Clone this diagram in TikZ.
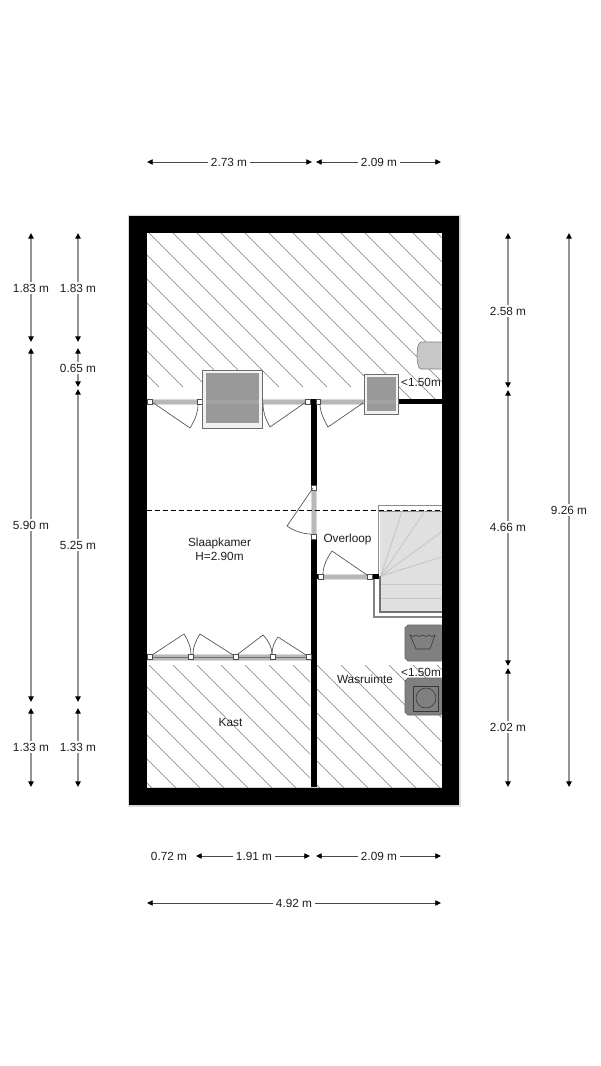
\documentclass[tikz,border=0pt]{standalone}
\usepackage{fontspec}
\setmainfont{Liberation Sans}
\usetikzlibrary{arrows.meta}
\definecolor{txt}{HTML}{1E1E1E}
\tikzset{
  x=0.75pt,y=-0.75pt,
  lab/.style={font=\fontsize{8.85}{10.5}\selectfont,text=txt,inner sep=0pt,align=center},
  dimbg/.style={lab,fill=white,inner xsep=2.2pt,inner ysep=1pt},
  tip/.style={{Triangle[length=4.2pt,width=4pt,black]}-{Triangle[length=4.2pt,width=4pt,black]}},
  dimv/.style={tip,draw=black!42,line width=0.85pt},
  dimh/.style={tip,draw=black!72,line width=0.5pt},
  hatch/.style={draw=black!52,line width=0.42pt},
  wallk/.style={fill=black,draw=none},
  bar/.style={fill=black!28,draw=black!15,line width=0.6pt},
  hinge/.style={fill=white,draw=black!70,line width=0.4pt},
  leaf/.style={draw=black!68,line width=0.5pt},
  stepline/.style={draw=black!22,line width=0.7pt},
  winouter/.style={fill=black!5,draw=black!58,line width=0.7pt},
  wininner/.style={fill=black!40,draw=none},
  appl/.style={fill=black!50,draw=black!62,line width=0.6pt},
  applline/.style={draw=black!78,line width=0.45pt},
}
\newcommand{\Vdim}[6]{% name x y1 y2 label ylabel
  \coordinate (#1a) at (#2,#3); \coordinate (#1b) at (#2,#4);
  \draw[dimv] (#1a) -- (#1b);
  \node[dimbg] (#1) at (#2,#6) {#5};}
\newcommand{\Hdim}[6]{% name y x1 x2 label xlabel
  \coordinate (#1a) at (#3,#2); \coordinate (#1b) at (#4,#2);
  \draw[dimh] (#1a) -- (#1b);
  \node[dimbg] (#1) at (#6,#2) {#5};}
\newcommand{\Hinge}[2]{\fill[hinge] (#1-2.3,#2-2.6) rectangle (#1+2.3,#2+2.6); \draw[hinge] (#1-2.3,#2-2.6) rectangle (#1+2.3,#2+2.6);}
\begin{document}
\begin{tikzpicture}
\useasboundingbox (0,0) rectangle (600,1066);
\fill[white] (0,0) rectangle (600,1066);
% outer walls
\fill[black!14] (128,215) rectangle (460.5,806.5);
\fill[wallk] (129,216) rectangle (459,805);
\fill[black!18] (147,233) rectangle (441.5,787.8);
\fill[white] (147,233) rectangle (441.5,787);
% hatching, upper room
\begin{scope}
  \clip (147,233) -- (441.5,233) -- (441.5,400) -- (364,400) -- (364,387) -- (147,387) -- cycle;
  \foreach \k in {-12,...,12} \draw[hatch] ({233+(-60+24*\k)},233) -- ({233+(-60+24*\k)+200},433);
\end{scope}
% hatching, Kast
\begin{scope}
  \clip (147,665) rectangle (310,787);
  \foreach \k in {-6,...,6} \draw[hatch] ({665+(-516+24*\k)},665) -- ({665+(-516+24*\k)+130},795);
\end{scope}
% hatching, Wasruimte
\begin{scope}
  \clip (317,665) rectangle (441.5,787);
  \foreach \k in {-5,...,6} \draw[hatch] ({665+(-348+24*\k)},665) -- ({665+(-348+24*\k)+130},795);
\end{scope}
% interior walls
\fill[wallk] (310.5,399) rectangle (316.5,787);
\fill[wallk] (398,399) rectangle (441.5,404);
% grey blob
\draw[fill=black!22,draw=black!50,line width=0.5pt] (441.5,342) -- (421,342) .. controls (418,342) and (417,350) .. (417,355.5) .. controls (417,361) and (418,369) .. (421,369) -- (441.5,369);
% top door bars
\fill[bar] (147,399.5) rectangle (306,404.5);
\fill[bar] (320,399.5) rectangle (364,404.5);
\Hinge{149.7}{401.7}
\Hinge{200}{401.7}
\Hinge{308}{401.7}
\Hinge{318.2}{401.7}
\draw[leaf] (152,402) -- (190,428) .. controls (195,420) and (198,412) .. (198,404);
\draw[leaf] (306,402) -- (270,427) .. controls (266,420) and (263,412) .. (263,404);
\draw[leaf] (363,403) -- (328,427) .. controls (324,420) and (320,412) .. (320,404);
% windows
\draw[winouter] (202,370) rectangle (262,428);
\fill[wininner] (206,373) rectangle (259,423);
\fill[black!36] (206,400) rectangle (259,404);
\draw[winouter] (364,374) rectangle (398,414);
\fill[wininner] (367,377) rectangle (396,411);
\fill[black!36] (367,400) rectangle (396,404);
% middle door
\fill[bar] (311,489) rectangle (316,535);
\Hinge{313.5}{487.5}
\Hinge{313.5}{536.5}
\draw[leaf] (313,488) -- (287,526) .. controls (294,531) and (303,534) .. (311,534);
% stairs
\fill[white] (374,575) -- (378,575) -- (378,505) -- (441.5,505) -- (441.5,617) -- (374,617) -- cycle;
\draw[black!48,line width=0.85pt] (441.5,617) -- (374,617) -- (374,579);
\fill[black!12] (380,511) rectangle (441.5,612);
\draw[black!45,line width=0.5pt] (441.5,505) -- (378,505) -- (378,575);
\draw[black!45,line width=0.5pt] (378,511) -- (441.5,511);
\coordinate (fan) at (381,576);
\draw[stepline] (fan) -- (402,511);
\draw[stepline] (fan) -- (425,511);
\draw[stepline] (fan) -- (441.5,532);
\draw[stepline] (fan) -- (441.5,557);
\draw[stepline] (381,584) -- (441.5,584);
\draw[stepline] (381,598) -- (441.5,598);
\draw[black!55,line width=1.1pt] (380,576) -- (380,612) -- (441.5,612);
% overloop door
\fill[wallk] (316,574) rectangle (320,579);
\fill[wallk] (371,574) rectangle (379,579);
\fill[bar] (322,574) rectangle (367,579);
\Hinge{320.5}{576.5}
\Hinge{369.5}{576.5}
\draw[leaf] (367,575) -- (332,551) .. controls (327,558) and (323,566) .. (323,574);
% dashed line
\draw[black,line width=0.65pt,dash pattern=on 3.4pt off 2.6pt] (147,510.5) -- (441.5,510.5);
% appliances
\draw[appl] (441.5,625) -- (408,625) -- (405,628) -- (405,658) -- (408,661) -- (441.5,661);
\fill[black!50] (406,626) rectangle (441.5,660);
\draw[applline] (410,635) .. controls (412,637) and (414,637) .. (416,635) .. controls (418,637) and (420,637) .. (422.5,635) .. controls (425,637) and (427,637) .. (429,635) .. controls (431,637) and (433,637) .. (435,635) -- (430,649) -- (416,649) -- cycle;
\draw[appl] (441.5,678) -- (408,678) -- (405,681) -- (405,712) -- (408,715) -- (441.5,715);
\fill[black!50] (406,679) rectangle (441.5,714);
\draw[applline] (413,686) rectangle (438,711);
\draw[applline] (426,698) circle[radius=10];
% closet doors
\fill[bar] (147,654) rectangle (310,660);
\draw[black!55,line width=0.3pt] (147,657) -- (310,657);
\Hinge{149.5}{657}
\Hinge{191}{657}
\Hinge{235.5}{657}
\Hinge{272.5}{657}
\Hinge{308.5}{657}
\draw[leaf] (152,655) -- (184,634) .. controls (188,640) and (191,647) .. (191,654);
\draw[leaf] (233,655) -- (200,634) .. controls (196,640) and (193,647) .. (193,654);
\draw[leaf] (238,654) -- (263,635) .. controls (268,640) and (272,647) .. (272,654);
\draw[leaf] (306,655) -- (278,637) .. controls (274,642) and (272,648) .. (272,654);
% room labels
\node[lab] (slaap) at (219.5,549) {Slaapkamer\\H=2.90m};
\node[lab] (over) at (347.5,539) {Overloop};
\node[lab] (was) at (365,679) {Wasruimte};
\node[lab] (kast) at (230.5,722) {Kast};
\node[lab] (hA) at (421,382) {<1.50m};
\node[lab] (hB) at (421,672) {<1.50m};
% dimensions, top
\Hdim{t1}{162}{147}{312}{2.73 m}{229}
\Hdim{t2}{162}{316}{441}{2.09 m}{379}
% dimensions, bottom
\node[lab] (b0) at (169,856) {0.72 m};
\Hdim{b1}{856}{196}{310}{1.91 m}{254}
\Hdim{b2}{856}{316}{441}{2.09 m}{379}
\Hdim{b3}{903}{147}{441}{4.92 m}{294}
% dimensions, left
\Vdim{l1}{31}{233}{342}{1.83 m}{288}
\Vdim{l2}{31}{348}{702}{5.90 m}{525}
\Vdim{l3}{31}{708}{787}{1.33 m}{747}
\Vdim{m1}{78}{233}{342}{1.83 m}{288}
\Vdim{m2}{78}{348}{387}{0.65 m}{368}
\Vdim{m3}{78}{389}{702}{5.25 m}{545}
\Vdim{m4}{78}{708}{787}{1.33 m}{747}
% dimensions, right
\Vdim{r1}{508}{233}{388}{2.58 m}{311}
\Vdim{r2}{508}{390}{666}{4.66 m}{527}
\Vdim{r3}{508}{668}{787}{2.02 m}{727}
\Vdim{r4}{569}{233}{787}{9.26 m}{510}
\end{tikzpicture}
\end{document}
